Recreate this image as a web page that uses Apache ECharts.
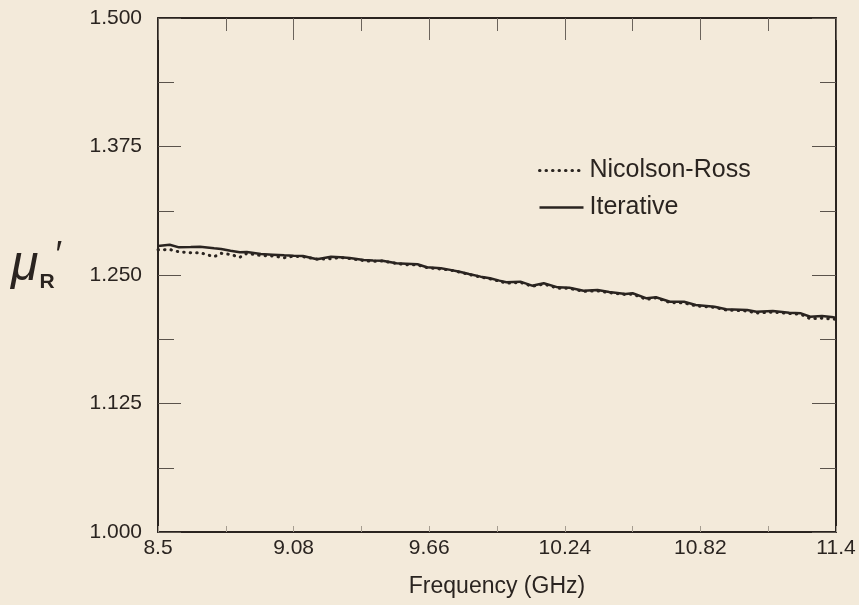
<!DOCTYPE html>
<html>
<head>
<meta charset="utf-8">
<script src="https://cdn.jsdelivr.net/npm/echarts@6/dist/echarts.min.js"></script>
<style>
html,body{margin:0;padding:0;background:#f3eada;}
#chart{width:859px;height:605px;}
</style>
</head>
<body>
<div id="chart"></div>
<script>
const freq = [8.50, 8.55, 8.59, 8.64, 8.68, 8.74, 8.77, 8.81, 8.85, 8.88, 8.94, 8.99, 9.04, 9.08, 9.12, 9.18, 9.24, 9.28, 9.32, 9.38, 9.42, 9.46, 9.52, 9.56, 9.61, 9.65, 9.71, 9.75, 9.79, 9.83, 9.88, 9.92, 9.96, 9.99, 10.05, 10.10, 10.15, 10.21, 10.26, 10.32, 10.38, 10.43, 10.50, 10.53, 10.59, 10.63, 10.69, 10.75, 10.80, 10.88, 10.93, 11.02, 11.06, 11.13, 11.20, 11.25, 11.29, 11.34, 11.39, 11.40];
const iterative = [1.2782, 1.2795, 1.2769, 1.2772, 1.2775, 1.2760, 1.2753, 1.2735, 1.2721, 1.2724, 1.2704, 1.2698, 1.2692, 1.2688, 1.2685, 1.2653, 1.2678, 1.2672, 1.2665, 1.2646, 1.2642, 1.2639, 1.2614, 1.2610, 1.2604, 1.2575, 1.2565, 1.2550, 1.2532, 1.2510, 1.2484, 1.2468, 1.2445, 1.2429, 1.2435, 1.2396, 1.2419, 1.2380, 1.2376, 1.2347, 1.2354, 1.2335, 1.2315, 1.2322, 1.2273, 1.2283, 1.2240, 1.2240, 1.2208, 1.2192, 1.2166, 1.2160, 1.2143, 1.2150, 1.2133, 1.2127, 1.2094, 1.2101, 1.2088, 1.2087];
const nicolsonRoss = [1.2745, 1.2748, 1.2725, 1.2717, 1.2717, 1.2678, 1.2711, 1.2700, 1.2672, 1.2711, 1.2690, 1.2685, 1.2668, 1.2683, 1.2678, 1.2655, 1.2658, 1.2670, 1.2660, 1.2640, 1.2632, 1.2636, 1.2612, 1.2600, 1.2598, 1.2572, 1.2558, 1.2548, 1.2528, 1.2505, 1.2480, 1.2462, 1.2440, 1.2420, 1.2428, 1.2390, 1.2412, 1.2372, 1.2370, 1.2340, 1.2346, 1.2328, 1.2310, 1.2315, 1.2262, 1.2278, 1.2232, 1.2228, 1.2200, 1.2185, 1.2160, 1.2150, 1.2130, 1.2140, 1.2125, 1.2118, 1.2075, 1.2080, 1.2070, 1.2072];
const xMajorTicks = [8.5, 9.08, 9.66, 10.24, 10.82, 11.4];
const xMinorTicks = [8.79, 9.37, 9.95, 10.53, 11.11];
const seriesNames = ['Nicolson-Ross', 'Iterative'];
const xName = 'Frequency (GHz)';

const ink = '#2a2420';
const font = "'Liberation Sans', Arial, Helvetica, sans-serif";
const chart = echarts.init(document.getElementById('chart'), null, {renderer: 'canvas'});

function zip(xs, ys) { return xs.map((x, i) => [x, ys[i]]); }
function fmtX(v) { return String(parseFloat(Number(v).toFixed(2))); }

const option = {
  backgroundColor: '#f3eada',
  animation: false,
  title: {
    text: '{mu|μ}{sub|R}{pr|′}',
    left: 6, top: 234,
    textStyle: {
      fontWeight: 'normal',
      rich: {
        mu: {fontSize: 50, fontStyle: 'italic', fontWeight: 'normal', fontFamily: font, color: ink, lineHeight: 54, verticalAlign: 'middle'},
        sub: {fontSize: 21, fontWeight: 'bold', fontFamily: font, color: ink, verticalAlign: 'bottom', padding: [24, 0, 0, 1]},
        pr: {fontSize: 36, fontWeight: 'normal', fontFamily: font, color: ink, verticalAlign: 'top', padding: [0, 0, 18, 1]}
      }
    }
  },
  legend: {
    data: seriesNames,
    orient: 'vertical',
    left: 533, top: 153,
    itemWidth: 44, itemHeight: 14, itemGap: 12,
    itemStyle: {opacity: 0},
    lineStyle: {width: 'inherit'},
    textStyle: {fontSize: 25, fontFamily: font, color: ink, padding: [0, 0, 0, 1]}
  },
  grid: {left: 158, right: 23, top: 18, bottom: 73, containLabel: false},
  xAxis: [
    {
      type: 'value', position: 'bottom', min: 8.5, max: 11.4,
      axisLine: {onZero: false, lineStyle: {color: ink, width: 2}},
      axisTick: {show: true, inside: true, length: 6, customValues: xMinorTicks.concat(xMajorTicks), lineStyle: {color: '#a59d90', width: 1}},
      axisLabel: {customValues: xMajorTicks, formatter: fmtX, fontSize: 21, fontFamily: font, color: ink, margin: 6},
      splitLine: {show: false},
      name: xName, nameLocation: 'middle', nameGap: 43,
      nameTextStyle: {fontSize: 23, fontFamily: font, color: ink}
    },
    {
      type: 'value', position: 'top', min: 8.5, max: 11.4,
      axisLine: {onZero: false, lineStyle: {color: ink, width: 2}},
      axisTick: {show: true, inside: true, length: 22, customValues: xMajorTicks, lineStyle: {color: '#6b645c', width: 1}},
      axisLabel: {show: false}, splitLine: {show: false}
    },
    {
      type: 'value', position: 'top', min: 8.5, max: 11.4,
      axisLine: {show: false},
      axisTick: {show: true, inside: true, length: 13, customValues: xMinorTicks, lineStyle: {color: '#6b645c', width: 1}},
      axisLabel: {show: false}, splitLine: {show: false}
    }
  ],
  yAxis: [
    {
      type: 'value', position: 'left', min: 1.0, max: 1.5, interval: 0.125,
      axisLine: {show: true, onZero: false, lineStyle: {color: ink, width: 2}},
      axisTick: {show: true, inside: true, length: 23, lineStyle: {color: '#5a534b', width: 1}},
      minorTick: {show: true, splitNumber: 2, length: 16, lineStyle: {color: '#5a534b', width: 1}},
      axisLabel: {formatter: v => Number(v).toFixed(3), fontSize: 21, fontFamily: font, color: ink, margin: 16},
      splitLine: {show: false}, minorSplitLine: {show: false}
    },
    {
      type: 'value', position: 'right', min: 1.0, max: 1.5, interval: 0.125,
      axisLine: {show: true, onZero: false, lineStyle: {color: ink, width: 2}},
      axisTick: {show: true, inside: true, length: 24, lineStyle: {color: '#5a534b', width: 1}},
      minorTick: {show: true, splitNumber: 2, length: 16, lineStyle: {color: '#5a534b', width: 1}},
      axisLabel: {show: false},
      splitLine: {show: false}, minorSplitLine: {show: false}
    }
  ],
  series: [
    {
      name: seriesNames[0], type: 'line', data: zip(freq, nicolsonRoss),
      symbol: 'none', smooth: false,
      lineStyle: {color: ink, width: 3, type: [0.5, 6], cap: 'round'},
      itemStyle: {color: ink}
    },
    {
      name: seriesNames[1], type: 'line', data: zip(freq, iterative),
      symbol: 'none', smooth: false,
      lineStyle: {color: ink, width: 2.5, type: 'solid'},
      itemStyle: {color: ink}
    }
  ]
};
chart.setOption(option);
</script>
</body>
</html>
